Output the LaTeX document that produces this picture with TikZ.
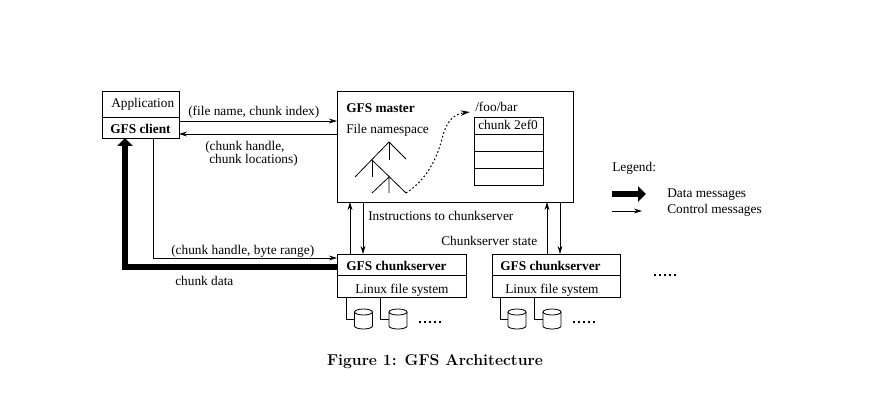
\documentclass[tikz,border=0pt]{standalone}
\usepackage{fontspec}
\usetikzlibrary{arrows.meta,calc}
\newfontfamily\labfont{Liberation Serif}
\tikzset{
  box/.style={draw,anchor=north west,inner sep=0pt,outer sep=0pt,line width=0.6pt,font=\labfont},
  lab/.style={anchor=base west,inner sep=0pt,font=\labfont},
  blab/.style={anchor=base west,inner sep=0pt,font=\labfont\bfseries},
  ctrl/.style={line width=0.6pt,-{Stealth[length=6pt,width=3.6pt]}},
  datamsg/.style={line width=4.5pt,-{Triangle[length=6pt,width=11.5pt]}},
  treeline/.style={line width=0.6pt},
  moredots/.style={line width=0.9pt,dash pattern=on 1.5pt off 2.2pt},
  disk/.style={inner sep=0pt,outer sep=0pt,minimum width=13.5pt,minimum height=15pt},
}
\newcommand{\drawdisk}[1]{%
  \draw [line width=0.6pt] ($(#1.north)+(0,3)$) ellipse [x radius=9,y radius=3];
  \draw [line width=0.6pt] ($(#1.north west)+(0,3)$) -- ($(#1.south west)+(0,-3)$)
    arc [start angle=180,end angle=0,x radius=9,y radius=3] -- ($(#1.north east)+(0,3)$);
}
\begin{document}
\begin{tikzpicture}[x=0.75pt,y=0.75pt,yscale=-1]
    \useasboundingbox (0,0) rectangle (887,413);

    %Shape: Rectangle
    \draw (102,91) node (app) [box,minimum width=57.75pt,minimum height=19.5pt] {};
    \draw (102,117) node (client) [box,minimum width=57.75pt,minimum height=15.75pt] {};
    \draw (337,91) node (master) [box,minimum width=177pt,minimum height=83.25pt] {};
    \draw (337,254) node (csone) [box,minimum width=96.75pt,minimum height=15.75pt] {};
    \draw (337,275) node (fsone) [box,minimum width=96.75pt,minimum height=16.5pt] {};
    \draw (492,254) node (cstwo) [box,minimum width=96pt,minimum height=15.75pt] {};
    \draw (492,275) node (fstwo) [box,minimum width=96pt,minimum height=16.5pt] {};
    %chunk table
    \draw (474,117) node (rowa) [box,minimum width=51.75pt,minimum height=12.75pt] {};
    \draw (474,134) node (rowb) [box,minimum width=51.75pt,minimum height=12.75pt] {};
    \draw (474,151) node (rowc) [box,minimum width=51.75pt,minimum height=12.75pt] {};
    \draw (474,168) node (rowd) [box,minimum width=51.75pt,minimum height=12.75pt] {};

    %Straight Lines
    \draw [ctrl] ($(client.east)+(0,-6.5)$) -- ($(master.west |- client.east)+(0,-6.5)$);
    \draw [ctrl] ($(master.west |- client.east)+(0,6.5)$) -- ($(client.east)+(0,6.5)$);
    \draw [ctrl] ($(client.south west)+(51,0)$) |- ($(csone.west)+(0,-6.5)$);
    \draw [datamsg] ($(csone.west)+(0,2.5)$) -| ($(client.south west)+(23,0)$);
    %master and chunkservers
    \draw [ctrl] ($(csone.north west)+(13,0)$) -- ($(master.south west)+(13,0)$);
    \draw [ctrl] ($(master.south west)+(26,0)$) -- ($(csone.north west)+(26,0)$);
    \draw [ctrl] ($(cstwo.north west)+(55,0)$) -- ($(master.south west)+(210,0)$);
    \draw [ctrl] ($(master.south west)+(223,0)$) -- ($(cstwo.north west)+(68,0)$);

    %Tree
    \coordinate (treetop) at (389,142);
    \coordinate (treemid) at (372,160);
    \coordinate (treelow) at (389,177);
    \coordinate (treeend) at (406,193);
    \draw [treeline] (406,159) -- (treetop) -- (355,177);
    \draw [treeline] (treetop) -- (389,160);
    \draw [treeline] (treemid) -- (372,177);
    \draw [treeline] (treemid) -- (treeend);
    \draw [treeline] (372,193) -- (treelow) -- (389,193);
    %Curve
    \coordinate (fooarrow) at (470,112);
    \draw [line width=0.8pt,dash pattern=on 1.2pt off 1.8pt,-{Stealth[length=7pt,width=4pt]}] (treeend) .. controls (426,180) and (437,160) .. (443,135) .. controls (447,122) and (453,114) .. (fooarrow);

    %Disks
    \draw (363.5,319) node (diskaa) [disk] {};
    \draw (398,319) node (diskab) [disk] {};
    \draw (517,319) node (diskba) [disk] {};
    \draw (552,319) node (diskbb) [disk] {};
    \drawdisk{diskaa}
    \drawdisk{diskab}
    \drawdisk{diskba}
    \drawdisk{diskbb}
    \draw [line width=0.6pt] ($(fsone.south west)+(9,0)$) |- (diskaa.west);
    \draw [line width=0.6pt] ($(fsone.south west)+(43,0)$) |- (diskab.west);
    \draw [line width=0.6pt] ($(fstwo.south west)+(8,0)$) |- (diskba.west);
    \draw [line width=0.6pt] ($(fstwo.south west)+(42,0)$) |- (diskbb.west);
    \draw [moredots] (419,322) -- (441,322);
    \draw [moredots] (573,322) -- (595,322);
    \draw [moredots] (654,275) -- (676,275);

    %Legend
    \draw [datamsg] (612,194) -- (646,194);
    \draw [ctrl] (612,211) -- (642,211);

    % Text Node
    \draw (111,108) node (apptext) [lab] {Application};
    \draw (110,134) node (clienttext) [blab] {GFS client};
    \draw (188,116) node (reqtext) [lab] {(file name, chunk index)};
    \draw (205,151) node (resptext) [lab] {(chunk handle,};
    \draw (209,164) node (resptexttwo) [lab] {chunk locations)};
    \draw (171,254) node (rangetext) [lab] {(chunk handle, byte range)};
    \draw (175,285) node (datatext) [lab] {chunk data};
    \draw (346,113) node (mastertext) [blab] {GFS master};
    \draw (346,134) node (nstext) [lab] {File namespace};
    \draw (475,112) node (footext) [lab] {/foo/bar};
    \draw (478,130) node (chunktext) [lab] {chunk 2ef0};
    \draw (368,220) node (instrtext) [lab] {Instructions to chunkserver};
    \draw (441,245) node (statetext) [lab] {Chunkserver state};
    \draw (346,270) node (csonetext) [blab] {GFS chunkserver};
    \draw (355,293) node (fsonetext) [lab] {Linux file system};
    \draw (500,270) node (cstwotext) [blab] {GFS chunkserver};
    \draw (505,293) node (fstwotext) [lab] {Linux file system};
    \draw (612,172) node (legendtext) [lab] {Legend:};
    \draw (667,197) node (datalegend) [lab] {Data messages};
    \draw (667,214) node (ctrllegend) [lab] {Control messages};
    \draw (435,365) node (caption) [anchor=base,inner sep=0pt,font=\fontsize{11.8}{14}\selectfont\bfseries] {Figure 1: GFS Architecture};

\end{tikzpicture}
\end{document}
